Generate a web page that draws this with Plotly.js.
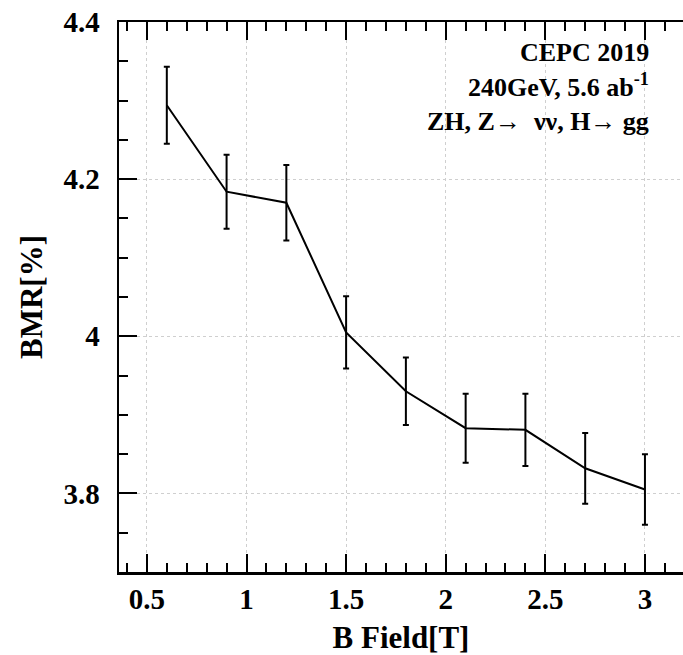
<!DOCTYPE html>
<html>
<head>
<meta charset="utf-8">
<script src="https://cdn.plot.ly/plotly-3.0.1.min.js"></script>
<style>html,body{margin:0;padding:0;background:#fff;}#chart{width:683px;height:655px;}</style>
</head>
<body>
<div id="chart"></div>
<script>
// Data
const bField = [0.6, 0.9, 1.2, 1.5, 1.8, 2.1, 2.4, 2.7, 3.0];
const bmr = [4.294, 4.184, 4.170, 4.005, 3.930, 3.883, 3.881, 3.832, 3.805];
const bmrErr = [0.049, 0.047, 0.048, 0.046, 0.043, 0.044, 0.046, 0.045, 0.045];
const xTickVals = [0.5, 1, 1.5, 2, 2.5, 3];
const xTickText = ['0.5', '1', '1.5', '2', '2.5', '3'];
const yTickVals = [3.8, 4.0, 4.2, 4.4];
const yTickText = ['3.8', '4', '4.2', '4.4'];
const infoTitle = 'CEPC 2019';
const infoLines = ['240GeV, 5.6 ab<sup>-1</sup>', 'ZH, Z\u2192  \u03bd\u03bd, H\u2192 gg'];

const serif = '"Liberation Serif", "Times New Roman", serif';
function tickFont() { return {family: serif, size: 29, color: '#000', weight: 'bold'}; }
function titleFont() { return {family: serif, size: 31, color: '#000', weight: 'bold'}; }
function annoFont() { return {family: serif, size: 26, color: '#000'}; }
const bold = s => '<b>' + s + '</b>';

const trace = {
  type: 'scatter',
  mode: 'lines',
  x: bField,
  y: bmr,
  line: {color: '#000', width: 2},
  error_y: {type: 'data', array: bmrErr, visible: true, color: '#000', thickness: 2, width: 3},
  showlegend: false,
  hoverinfo: 'x+y'
};

const annotations = [
  {xref: 'paper', yref: 'paper', x: 0.943, y: 0.945, xanchor: 'right', yanchor: 'middle',
   showarrow: false, text: bold(infoTitle), font: annoFont()},
  {xref: 'paper', yref: 'paper', x: 0.943, y: 0.853, xanchor: 'right', yanchor: 'middle',
   align: 'right', showarrow: false, text: infoLines.map(bold).join('<br>'), font: annoFont()}
];

const layout = {
  width: 683, height: 655,
  margin: {l: 119, r: 0, t: 22, b: 83},
  paper_bgcolor: '#fff', plot_bgcolor: '#fff',
  showlegend: false,
  xaxis: {
    range: [0.36, 3.191],
    tickmode: 'array', tickvals: xTickVals, ticktext: xTickText.map(bold),
    ticks: 'inside', ticklen: 18, tickwidth: 2, tickcolor: '#000',
    showline: true, linewidth: 2.5, linecolor: '#000', mirror: 'ticks',
    showgrid: true, gridcolor: '#cfcfcf', griddash: 'dot', gridwidth: 1,
    zeroline: false,
    tickfont: tickFont(),
    minor: {dtick: 0.1, tick0: 0, ticks: 'inside', ticklen: 9, tickwidth: 2, tickcolor: '#000', showgrid: false},
    title: {text: bold('B Field[T]'), font: titleFont(), standoff: 12}
  },
  yaxis: {
    range: [3.7, 4.4],
    tickmode: 'array', tickvals: yTickVals, ticktext: yTickText.map(bold),
    ticks: 'inside', ticklen: 18, tickwidth: 2, tickcolor: '#000',
    showline: true, linewidth: 2.5, linecolor: '#000', mirror: false,
    showgrid: true, gridcolor: '#cfcfcf', griddash: 'dot', gridwidth: 1,
    zeroline: false,
    tickfont: tickFont(),
    ticklabelstandoff: 11,
    minor: {dtick: 0.05, tick0: 0, ticks: 'inside', ticklen: 9, tickwidth: 2, tickcolor: '#000', showgrid: false},
    title: {text: bold('BMR[%]'), font: titleFont(), standoff: 12}
  },
  yaxis2: {
    overlaying: 'y', side: 'right', matches: 'y',
    tickmode: 'array', tickvals: yTickVals,
    ticks: 'inside', ticklen: 8, tickwidth: 2, tickcolor: '#000',
    showticklabels: false, showgrid: false, showline: false, zeroline: false
  },
  annotations: annotations
};

Plotly.newPlot('chart', [trace], layout, {displayModeBar: false, staticPlot: true});
</script>
</body>
</html>
